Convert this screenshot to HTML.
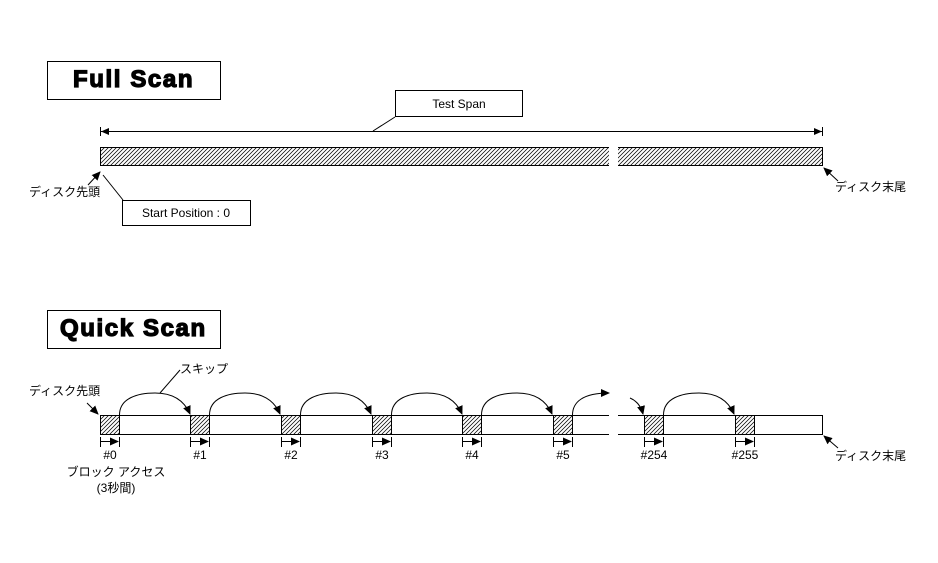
<!DOCTYPE html>
<html><head><meta charset="utf-8"><style>
html,body{margin:0;padding:0;background:#fff;}
svg{display:block;}
text{font-family:"Liberation Sans","Noto Sans CJK JP",sans-serif;fill:#000;}
.t{font-size:12px;}
.h{font-size:24px;font-weight:bold;letter-spacing:1.6px;stroke:#000;stroke-width:1.3px;}
</style></head><body>
<svg width="938" height="563" viewBox="0 0 938 563" xmlns="http://www.w3.org/2000/svg">
<defs>
<pattern id="hatch" patternUnits="userSpaceOnUse" width="4" height="4">
<path d="M-1,1 L1,-1 M0,4 L4,0 M3,5 L5,3" stroke="#000" stroke-width="0.75"/>
</pattern>
<marker id="ah" markerWidth="9" markerHeight="9" refX="8" refY="4.5" orient="auto" markerUnits="userSpaceOnUse">
<path d="M0,0.5 L9,4.5 L0,8.5 Z" fill="#000"/>
</marker>
</defs>

<!-- Full Scan title -->
<rect x="47.5" y="61.5" width="173" height="38" fill="#fff" stroke="#000"/>
<text class="h" x="73" y="87">Full Scan</text>

<!-- Test span box -->
<rect x="395.5" y="90.5" width="127" height="26" fill="#fff" stroke="#000"/>
<text class="t" x="459" y="108" text-anchor="middle">Test Span</text>
<line x1="395" y1="117" x2="373" y2="131" stroke="#000"/>

<!-- Test span dimension line -->
<line x1="100" y1="131.5" x2="822" y2="131.5" stroke="#000"/>
<line x1="100.5" y1="127" x2="100.5" y2="136" stroke="#000"/>
<line x1="822.5" y1="127" x2="822.5" y2="136" stroke="#000"/>
<path d="M101,131.5 L109,128 L109,135 Z" fill="#000"/>
<path d="M822,131.5 L814,128 L814,135 Z" fill="#000"/>

<!-- Full scan bar -->
<rect x="100" y="147" width="509" height="19" fill="url(#hatch)"/>
<rect x="618" y="147" width="204" height="19" fill="url(#hatch)"/>
<path d="M100,147.5 H609 M618,147.5 H822 M100,165.5 H609 M618,165.5 H822 M100.5,147 V166 M822.5,147 V166" stroke="#000" fill="none"/>

<!-- Disk head / end labels full scan -->
<text class="t" x="29" y="196">ディスク先頭</text>
<line x1="88" y1="185" x2="100" y2="172" stroke="#000" marker-end="url(#ah)"/>
<text class="t" x="835" y="191">ディスク末尾</text>
<line x1="838" y1="181" x2="824" y2="168" stroke="#000" marker-end="url(#ah)"/>

<!-- Start position box -->
<line x1="103" y1="175" x2="123" y2="200" stroke="#000"/>
<rect x="122.5" y="200.5" width="128" height="25" fill="#fff" stroke="#000"/>
<text class="t" x="186" y="217" text-anchor="middle">Start Position : 0</text>

<!-- Quick Scan title -->
<rect x="47.5" y="310.5" width="173" height="38" fill="#fff" stroke="#000"/>
<text class="h" x="60" y="336">Quick Scan</text>

<!-- Quick scan bar -->
<path d="M100,415.5 H609 M618,415.5 H822 M100,434.5 H609 M618,434.5 H822 M100.5,415 V435 M822.5,415 V435" stroke="#000" fill="none"/>
<g stroke="#000">
<rect x="100" y="415" width="19" height="19" fill="url(#hatch)" stroke="none"/>
<rect x="190.5" y="415.5" width="19" height="19" fill="url(#hatch)"/>
<rect x="281.5" y="415.5" width="19" height="19" fill="url(#hatch)"/>
<rect x="372.5" y="415.5" width="19" height="19" fill="url(#hatch)"/>
<rect x="462.5" y="415.5" width="19" height="19" fill="url(#hatch)"/>
<rect x="553.5" y="415.5" width="19" height="19" fill="url(#hatch)"/>
<rect x="644.5" y="415.5" width="19" height="19" fill="url(#hatch)"/>
<rect x="735.5" y="415.5" width="19" height="19" fill="url(#hatch)"/>
<line x1="119.5" y1="415" x2="119.5" y2="435"/>
</g>

<!-- skip arcs -->
<g fill="none" stroke="#000" marker-end="url(#ah)">
<path d="M119.5,415 C119.5,398 138,393 155,393 C172,393 184,400 190,414"/>
<path d="M209.5,415 C209.5,398 228,393 245,393 C262,393 274,400 280,414"/>
<path d="M300.5,415 C300.5,398 319,393 336,393 C353,393 365,400 371,414"/>
<path d="M391.5,415 C391.5,398 410,393 427,393 C444,393 456,400 462,414"/>
<path d="M481.5,415 C481.5,398 500,393 517,393 C534,393 546,400 552,414"/>
<path d="M572.5,415 C572.5,402 583,393 609,393"/>
<path d="M630,398 C637,401 641,406 643,414"/>
<path d="M663.5,415 C663.5,398 682,393 699,393 C716,393 728,400 734,414"/>
</g>

<!-- block size arrows -->
<g stroke="#000">
<line x1="100.5" y1="437" x2="100.5" y2="447"/><line x1="100" y1="441.5" x2="118" y2="441.5" marker-end="url(#ah)"/><line x1="119.5" y1="437" x2="119.5" y2="447"/>
<line x1="190.5" y1="437" x2="190.5" y2="447"/><line x1="190" y1="441.5" x2="208" y2="441.5" marker-end="url(#ah)"/><line x1="209.5" y1="437" x2="209.5" y2="447"/>
<line x1="281.5" y1="437" x2="281.5" y2="447"/><line x1="281" y1="441.5" x2="299" y2="441.5" marker-end="url(#ah)"/><line x1="300.5" y1="437" x2="300.5" y2="447"/>
<line x1="372.5" y1="437" x2="372.5" y2="447"/><line x1="372" y1="441.5" x2="390" y2="441.5" marker-end="url(#ah)"/><line x1="391.5" y1="437" x2="391.5" y2="447"/>
<line x1="462.5" y1="437" x2="462.5" y2="447"/><line x1="462" y1="441.5" x2="480" y2="441.5" marker-end="url(#ah)"/><line x1="481.5" y1="437" x2="481.5" y2="447"/>
<line x1="553.5" y1="437" x2="553.5" y2="447"/><line x1="553" y1="441.5" x2="571" y2="441.5" marker-end="url(#ah)"/><line x1="572.5" y1="437" x2="572.5" y2="447"/>
<line x1="644.5" y1="437" x2="644.5" y2="447"/><line x1="644" y1="441.5" x2="662" y2="441.5" marker-end="url(#ah)"/><line x1="663.5" y1="437" x2="663.5" y2="447"/>
<line x1="735.5" y1="437" x2="735.5" y2="447"/><line x1="735" y1="441.5" x2="753" y2="441.5" marker-end="url(#ah)"/><line x1="754.5" y1="437" x2="754.5" y2="447"/>
</g>

<!-- numbers -->
<g class="t" text-anchor="middle">
<text x="110" y="459">#0</text>
<text x="200" y="459">#1</text>
<text x="291" y="459">#2</text>
<text x="382" y="459">#3</text>
<text x="472" y="459">#4</text>
<text x="563" y="459">#5</text>
<text x="654" y="459">#254</text>
<text x="745" y="459">#255</text>
<text x="116" y="476">ブロック アクセス</text>
<text x="116" y="492">(3秒間)</text>
</g>

<!-- labels quick scan -->
<text class="t" x="29" y="395">ディスク先頭</text>
<line x1="87" y1="403" x2="98" y2="414" stroke="#000" marker-end="url(#ah)"/>
<text class="t" x="180" y="373">スキップ</text>
<line x1="160" y1="393" x2="180" y2="370" stroke="#000"/>
<text class="t" x="835" y="460">ディスク末尾</text>
<line x1="838" y1="448" x2="824" y2="436" stroke="#000" marker-end="url(#ah)"/>
</svg>
</body></html>
